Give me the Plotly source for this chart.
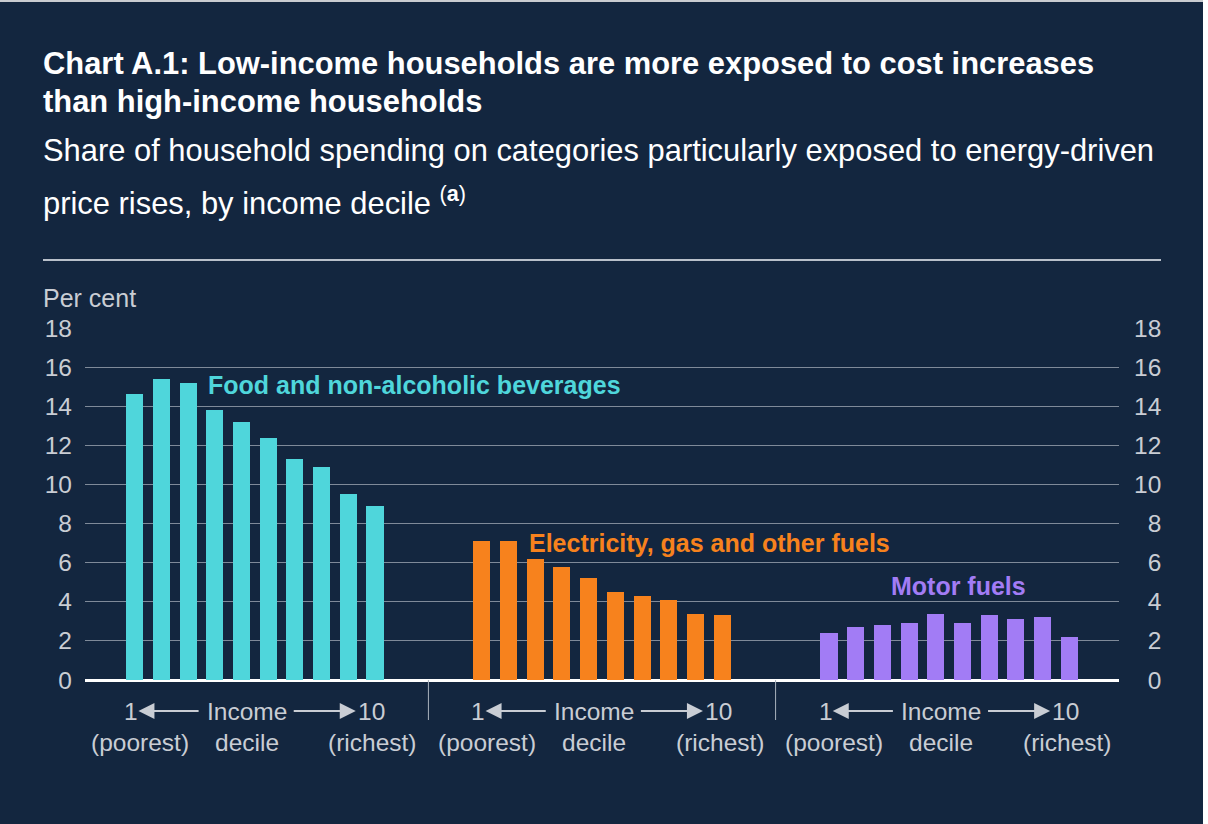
import plotly.graph_objects as go

# ---------------- data ----------------
deciles = list(range(1, 11))
categories = ["Food and non-alcoholic beverages", "Electricity, gas and other fuels", "Motor fuels"]
food = [14.6, 15.4, 15.2, 13.8, 13.2, 12.4, 11.3, 10.9, 9.5, 8.9]
electricity = [7.1, 7.1, 6.2, 5.8, 5.2, 4.5, 4.3, 4.1, 3.4, 3.3]
motor = [2.4, 2.7, 2.8, 2.9, 3.4, 2.9, 3.3, 3.1, 3.2, 2.2]
series_values = [food, electricity, motor]
colors = ["#4fd6db", "#f7821d", "#a27cf5"]
y_ticks = [0, 2, 4, 6, 8, 10, 12, 14, 16, 18]

title_lines = ["Chart A.1: Low-income households are more exposed to cost increases",
               "than high-income households"]
subtitle_lines = ["Share of household spending on categories particularly exposed to energy-driven",
                  "price rises, by income decile <sup>(<b>a</b>)</sup>"]

BG = "#13263f"
GRID = "#7f8a99"
TXT = "#c9cdd4"
FONT = "Liberation Sans, Arial, sans-serif"

# figure geometry (pixels)
W, H = 1208, 824
L, R, T, B = 85, 89, 328, 144
PW, PH = W - L - R, H - T - B


def px(p):
    return (p - L) / PW


def py(p):
    return (H - B - p) / PH


GROUP_STEP = 13
fig = go.Figure()
for g, (name, vals, col) in enumerate(zip(categories, series_values, colors)):
    xs = [g * GROUP_STEP + (d - 1) for d in deciles]
    fig.add_trace(go.Bar(x=xs, y=vals, name=name, marker=dict(color=col, line=dict(width=0)),
                         width=0.64, showlegend=False, hoverinfo="y"))
# invisible trace for right axis
fig.add_trace(go.Scatter(x=[0], y=[0], yaxis="y2", mode="markers", marker=dict(opacity=0),
                         showlegend=False, hoverinfo="skip"))

fig.update_layout(
    width=W, height=H,
    margin=dict(l=L, r=R, t=T, b=B, pad=0),
    paper_bgcolor=BG, plot_bgcolor=BG,
    font=dict(family=FONT, color=TXT, size=24),
    bargap=0,
    xaxis=dict(range=[-1.86, 36.86], showgrid=False, zeroline=False, showticklabels=False,
               showline=False, ticks="", fixedrange=True),
    yaxis=dict(range=[0, 18], tickvals=y_ticks, ticktext=[str(v) for v in y_ticks],
               showgrid=True, gridcolor=GRID, gridwidth=1,
               zeroline=True, zerolinecolor="#ffffff", zerolinewidth=3,
               showline=False, ticks="", ticklabelstandoff=12,
               tickfont=dict(size=24.5, color=TXT, family=FONT)),
    yaxis2=dict(range=[0, 18], overlaying="y", side="right", tickvals=y_ticks,
                ticktext=[("\u2007" + str(v)) if v < 10 else str(v) for v in y_ticks],
                showgrid=False, zeroline=False, showline=False, ticks="", ticklabelstandoff=14,
                tickfont=dict(size=24.5, color=TXT, family=FONT)),
)

ann = []
# title
for i, line in enumerate(title_lines):
    ann.append(dict(text="<b>" + line + "</b>", x=px(41), y=py(63 + 38 * i), xref="paper", yref="paper",
                    xanchor="left", yanchor="middle", showarrow=False,
                    font=dict(size=30.9, color="#ffffff", family=FONT)))
for i, line in enumerate(subtitle_lines):
    ann.append(dict(text=line, x=px(41), y=py(150 + 51 * i), xref="paper", yref="paper",
                    xanchor="left", yanchor="middle", showarrow=False,
                    font=dict(size=30.9, color="#ffffff", family=FONT)))
# Per cent
ann.append(dict(text="Per cent", x=px(41), y=py(298), xref="paper", yref="paper",
                xanchor="left", yanchor="middle", showarrow=False,
                font=dict(size=25, color=TXT, family=FONT)))

# series labels
label_pos = [(2.68, 15.1, "left"), (14.7, 7.0, "left"), (30.84, 4.8, "center")]
for (lx, ly, anc), name, col in zip(label_pos, categories, colors):
    ann.append(dict(text="<b>" + name + "</b>", x=lx, y=ly, xref="x", yref="y",
                    xanchor=anc, yanchor="middle", showarrow=False,
                    font=dict(size=25, color=col, family=FONT)))

# x-axis decile labels
row1, row2 = py(711), py(742)
for g in range(3):
    o = g * GROUP_STEP
    items = [("1", -0.13, row1), ("Income", 4.21, row1), ("10", 8.86, row1),
             ("(poorest)", 0.2, row2), ("decile", 4.21, row2), ("(richest)", 8.9, row2)]
    for t, xx, yy in items:
        ann.append(dict(text=t, x=o + xx, y=yy, xref="x", yref="paper", xanchor="center",
                        yanchor="middle", showarrow=False,
                        font=dict(size=24.5, color=TXT, family=FONT)))
    # arrows
    for head, tail in [(0.14, 2.45), (8.28, 5.9)]:
        ann.append(dict(text="", x=o + head, y=row1, xref="x", yref="paper",
                        ax=o + tail, ay=0, axref="x", ayref="pixel",
                        showarrow=True, arrowhead=2, arrowsize=1.6, arrowwidth=2,
                        arrowcolor=TXT, standoff=0, startstandoff=0))

fig.update_layout(annotations=ann)

shapes = []
# horizontal rule under the title
shapes.append(dict(type="line", xref="paper", yref="paper", x0=px(43), x1=px(1161),
                   y0=py(260), y1=py(260), line=dict(color="#b9c0ca", width=2)))
# group dividers
for xd in [11, 24]:
    shapes.append(dict(type="line", xref="x", yref="paper", x0=xd, x1=xd, y0=0, y1=py(720),
                       line=dict(color="#aab2bd", width=1)))
# page edges
shapes.append(dict(type="rect", xref="paper", yref="paper", x0=px(1203), x1=px(1215),
                   y0=py(830), y1=py(-5), fillcolor="#ffffff", line=dict(width=0), layer="above"))
shapes.append(dict(type="rect", xref="paper", yref="paper", x0=px(-5), x1=px(1203),
                   y0=py(2), y1=py(-5), fillcolor="#c9ccd0", line=dict(width=0), layer="above"))
fig.update_layout(shapes=shapes)

fig.write_html("out.html")
